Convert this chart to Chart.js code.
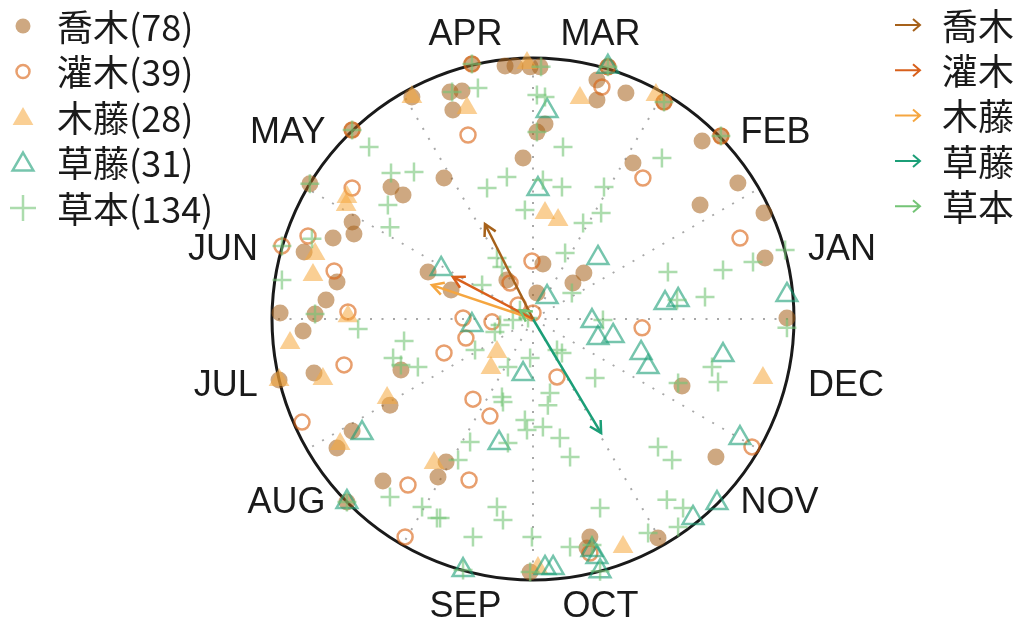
<!DOCTYPE html>
<html>
<head>
<meta charset="utf-8">
<script src="https://cdn.jsdelivr.net/npm/chart.js@4.4.1/dist/chart.umd.min.js"></script>
<style>
  html, body { margin: 0; padding: 0; background: #fff; }
  #wrap { width: 1020px; height: 623px; }
</style>
</head>
<body>
<div id="wrap"><canvas id="myChart" width="1020" height="623"></canvas></div>
<script>
// month labels around the circle, JAN starts at 0 deg (east), counter-clockwise
const months = ['JAN', 'FEB', 'MAR', 'APR', 'MAY', 'JUN', 'JUL', 'AUG', 'SEP', 'OCT', 'NOV', 'DEC'];

const groupNames = ['喬木', '灌木', '木藤', '草藤', '草本'];
const groupCounts = [78, 39, 28, 31, 134];

// points as [x, y] inside the unit circle (radius 1 = circle edge)
const qiaomu = [
  [-0.234, 0.977], [-0.107, 0.969], [-0.069, 0.969], [-0.011, 0.966], [0.027, 0.966],
  [0.287, 0.966], [0.245, 0.916], [0.245, 0.839], [0.356, 0.866], [-0.318, 0.870],
  [-0.272, 0.874], [-0.307, 0.801], [0.046, 0.747], [0.015, 0.716], [-0.038, 0.617],
  [-0.341, 0.540], [-0.464, 0.851], [-0.693, 0.724], [-0.544, 0.506], [-0.498, 0.475],
  [-0.855, 0.518], [-0.693, 0.372], [-0.686, 0.326], [-0.766, 0.310], [-0.877, 0.257],
  [-0.751, 0.142], [-0.793, 0.073], [-0.969, 0.023], [-0.835, 0.019], [-0.881, -0.046],
  [-0.506, -0.195], [-0.839, -0.207], [-0.973, -0.234], [-0.548, -0.330], [-0.693, -0.429],
  [-0.751, -0.494], [-0.575, -0.621], [-0.333, -0.548], [-0.364, -0.605], [-0.713, -0.701],
  [-0.402, 0.180], [-0.314, 0.111], [0.038, 0.211], [0.195, 0.176], [0.153, 0.138],
  [-0.100, 0.149], [0.015, 0.100], [0.383, 0.598], [0.648, 0.682], [0.785, 0.521],
  [0.640, 0.437], [0.885, 0.406], [0.889, 0.234], [0.973, 0.004], [0.571, -0.257],
  [0.701, -0.529], [0.479, -0.839], [0.218, -0.835], [0.207, -0.877], [-0.011, -0.969],
  [0.720, 0.701], [0.502, 0.831]
];
const guanmu = [
  [-0.234, 0.977], [0.264, 0.889], [-0.249, 0.705], [-0.693, 0.724], [-0.693, 0.502],
  [-0.962, 0.280], [-0.862, 0.318], [-0.762, 0.184], [-0.709, 0.027], [-0.724, -0.176],
  [-0.885, -0.395], [-0.479, -0.636], [-0.490, -0.835], [-0.004, 0.222], [-0.088, 0.138],
  [-0.057, 0.054], [0.000, 0.023], [-0.268, 0.004], [-0.157, -0.011], [-0.257, -0.073],
  [-0.341, -0.130], [0.092, -0.222], [-0.230, -0.307], [-0.165, -0.372], [-0.245, -0.617],
  [0.218, -0.897], [0.793, 0.310], [0.418, -0.034], [0.839, -0.490], [0.421, 0.540],
  [0.720, 0.701], [0.502, 0.831], [0.287, 0.966]
];
const muteng = [
  [-0.023, 0.981], [0.180, 0.847], [0.471, 0.858], [-0.253, 0.808], [-0.464, 0.851],
  [-0.713, 0.467], [-0.716, 0.437], [-0.835, 0.249], [-0.843, 0.169], [-0.709, 0.011],
  [-0.931, -0.092], [-0.805, -0.230], [-0.973, -0.234], [-0.559, -0.303], [-0.739, -0.479],
  [-0.379, -0.552], [-0.138, -0.126], [-0.161, -0.188], [0.046, 0.406], [0.096, 0.379],
  [0.345, -0.874], [0.881, -0.226], [0.019, -0.954]
];
const caoteng = [
  [0.287, 0.966], [0.054, 0.797], [0.019, 0.498], [-0.352, 0.192], [0.249, 0.234],
  [0.054, 0.084], [-0.234, -0.023], [-0.038, -0.211], [0.226, -0.008], [0.249, -0.073],
  [0.307, -0.065], [0.506, 0.061], [0.556, 0.073], [0.973, 0.092], [0.414, -0.130],
  [0.441, -0.184], [0.728, -0.138], [-0.655, -0.437], [-0.713, -0.701], [-0.130, -0.475],
  [-0.268, -0.962], [0.046, -0.954], [0.077, -0.954], [0.226, -0.885], [0.245, -0.912],
  [0.257, -0.966], [0.793, -0.456], [0.613, -0.762], [0.705, -0.705]
];
const caoben = [
  [-0.234, 0.977], [0.031, 0.966], [0.287, 0.966], [0.502, 0.831], [0.720, 0.701],
  [-0.693, 0.724], [-0.310, 0.870], [-0.211, 0.885], [0.015, 0.858], [0.046, 0.851],
  [0.115, 0.659], [0.015, 0.716], [-0.628, 0.659], [-0.544, 0.559], [-0.456, 0.563],
  [-0.855, 0.518], [-0.556, 0.437], [-0.548, 0.352], [-0.100, 0.544], [-0.176, 0.502],
  [0.038, 0.533], [0.111, 0.506], [-0.031, 0.418], [0.192, 0.368], [0.261, 0.406],
  [0.272, 0.506], [0.494, 0.617], [-0.962, 0.280], [-0.847, 0.307], [-0.962, 0.149],
  [-0.835, 0.019], [-0.670, -0.038], [-0.494, -0.084], [-0.536, -0.149], [-0.506, -0.176],
  [-0.441, -0.184], [0.123, 0.253], [-0.138, 0.234], [-0.119, 0.199], [-0.195, 0.130],
  [0.149, 0.100], [-0.050, 0.034], [-0.019, 0.004], [-0.077, -0.004], [-0.146, -0.050],
  [-0.126, -0.023], [0.268, -0.004], [-0.222, -0.119], [0.092, -0.119], [0.111, -0.130],
  [-0.096, -0.184], [0.238, -0.226], [-0.119, -0.299], [0.065, -0.284], [-0.011, -0.149],
  [0.966, 0.264], [0.843, 0.218], [0.728, 0.188], [0.517, 0.180], [0.659, 0.084],
  [0.552, 0.073], [0.973, -0.034], [0.686, -0.184], [0.709, -0.241], [0.556, -0.245],
  [-0.115, -0.318], [0.057, -0.330], [-0.031, -0.387], [-0.023, -0.425], [0.038, -0.414],
  [0.103, -0.456], [0.142, -0.529], [-0.096, -0.475], [-0.241, -0.471], [-0.287, -0.540],
  [-0.138, -0.720], [-0.115, -0.770], [-0.230, -0.835], [-0.356, -0.762], [-0.004, -0.835],
  [0.142, -0.874], [0.257, -0.724], [-0.268, -0.962], [-0.011, -0.969], [0.257, -0.966],
  [0.226, -0.866], [-0.548, -0.682], [-0.713, -0.701], [-0.425, -0.720], [-0.368, -0.762],
  [0.479, -0.490], [0.533, -0.540], [0.513, -0.693], [0.575, -0.724], [0.556, -0.797],
  [0.441, -0.820]
];

// mean direction vectors (tip of each arrow), same order as groupNames
const arrowX = [-0.184, -0.307, -0.387, 0.261, -0.050];
const arrowY = [0.364, 0.161, 0.130, -0.437, 0.034];

const arrowColors = ['#a6611a', '#d8601c', '#f5a640', '#1b9e77', '#74c476'];

const toXY = arr => arr.map(p => ({x: p[0], y: p[1]}));

const pointSets = [
  {label: groupNames[0], data: toXY(qiaomu), pointStyle: 'circle', pointRadius: 8.5,
   backgroundColor: 'rgba(166,97,26,0.55)', borderColor: 'rgba(0,0,0,0)', borderWidth: 0, order: 5},
  {label: groupNames[1], data: toXY(guanmu), pointStyle: 'circle', pointRadius: 7.5,
   backgroundColor: 'rgba(0,0,0,0)', borderColor: 'rgba(217,95,14,0.6)', borderWidth: 2.5, order: 4},
  {label: groupNames[2], data: toXY(muteng), pointStyle: 'triangle', pointRadius: 12,
   backgroundColor: 'rgba(246,168,60,0.55)', borderColor: 'rgba(0,0,0,0)', borderWidth: 0, order: 3},
  {label: groupNames[3], data: toXY(caoteng), pointStyle: 'triangle', pointRadius: 12,
   backgroundColor: 'rgba(0,0,0,0)', borderColor: 'rgba(27,158,119,0.6)', borderWidth: 2.5, order: 2},
  {label: groupNames[4], data: toXY(caoben), pointStyle: 'cross', pointRadius: 9.5,
   backgroundColor: 'rgba(0,0,0,0)', borderColor: 'rgba(116,196,118,0.6)', borderWidth: 2.5, order: 1}
];
pointSets.forEach(d => { d.type = 'scatter'; d.clip = false; d.pointHoverRadius = d.pointRadius; });

const arrowSets = groupNames.map((n, i) => ({
  type: 'line',
  label: n + ' arrow',
  data: [{x: 0, y: 0}, {x: arrowX[i], y: arrowY[i]}],
  borderColor: arrowColors[i],
  borderWidth: 2.5,
  pointRadius: 0,
  showLine: true,
  clip: false,
  order: 0,
  isArrow: true
}));

const polarDecor = {
  id: 'polarDecor',
  beforeDatasetsDraw(chart) {
    const {ctx, scales: {x, y}} = chart;
    const cx = x.getPixelForValue(0), cy = y.getPixelForValue(0);
    const R = x.getPixelForValue(1) - cx;
    ctx.save();
    // dotted spokes
    ctx.strokeStyle = '#a8a8a8';
    ctx.lineWidth = 2;
    ctx.setLineDash([2, 9.5]);
    for (let a = 0; a < 360; a += 30) {
      const t = a * Math.PI / 180;
      ctx.beginPath();
      ctx.moveTo(cx, cy);
      ctx.lineTo(cx + R * Math.cos(t), cy - R * Math.sin(t));
      ctx.stroke();
    }
    ctx.setLineDash([]);
    ctx.strokeStyle = '#1a1a1a';
    ctx.lineWidth = 3;
    ctx.beginPath();
    ctx.arc(cx, cy, R, 0, Math.PI * 2);
    ctx.stroke();

    // month labels
    ctx.fillStyle = '#1a1a1a';
    ctx.font = '36px "Liberation Sans", Arial, sans-serif';
    ctx.textBaseline = 'alphabetic';
    months.forEach((m, i) => {
      const t = (15 + 30 * i) * Math.PI / 180;
      const px = cx + R * Math.cos(t), py = cy - R * Math.sin(t);
      const c = Math.cos(t), s = Math.sin(t);
      if (Math.abs(c) > 0.5) {
        ctx.textAlign = c > 0 ? 'left' : 'right';
        ctx.fillText(m, px + (c > 0 ? 23 : -23), py + 9);
      } else {
        ctx.textAlign = 'center';
        ctx.fillText(m, px, s > 0 ? py - 22 : py + 46);
      }
    });
    ctx.restore();
  },
  afterDatasetsDraw(chart) {
    const ctx = chart.ctx;
    ctx.save();
    chart.data.datasets.forEach((ds, i) => {
      if (!ds.isArrow) return;
      const pts = chart.getDatasetMeta(i).data;
      const a = pts[0], b = pts[1];
      const ang = Math.atan2(b.y - a.y, b.x - a.x);
      const len = 13, spread = 0.5;
      ctx.strokeStyle = ds.borderColor;
      ctx.lineWidth = 2.5;
      ctx.beginPath();
      ctx.moveTo(b.x - len * Math.cos(ang - spread), b.y - len * Math.sin(ang - spread));
      ctx.lineTo(b.x, b.y);
      ctx.lineTo(b.x - len * Math.cos(ang + spread), b.y - len * Math.sin(ang + spread));
      ctx.stroke();
    });
    ctx.restore();
  },
  afterDraw(chart) {
    const ctx = chart.ctx;
    ctx.save();
    ctx.font = '36px "Noto Sans CJK TC", "Noto Sans", sans-serif';
    ctx.fillStyle = '#1a1a1a';
    ctx.textBaseline = 'middle';
    ctx.textAlign = 'left';
    // left legend: point keys
    groupNames.forEach((n, i) => {
      const yy = 26 + 45.5 * i, xx = 23;
      const ds = pointSets[i];
      ctx.beginPath();
      if (i === 0) {
        ctx.fillStyle = ds.backgroundColor;
        ctx.arc(xx, yy, 7.5, 0, Math.PI * 2);
        ctx.fill();
      } else if (i === 1) {
        ctx.strokeStyle = ds.borderColor; ctx.lineWidth = 2.5;
        ctx.arc(xx, yy, 6.5, 0, Math.PI * 2);
        ctx.stroke();
      } else if (i === 2 || i === 3) {
        const r = 12;
        for (let k = 0; k < 3; k++) {
          const t = -Math.PI / 2 + k * 2 * Math.PI / 3;
          const fx = xx + r * Math.cos(t), fy = yy + 2 + r * Math.sin(t);
          if (k === 0) ctx.moveTo(fx, fy); else ctx.lineTo(fx, fy);
        }
        ctx.closePath();
        if (i === 2) { ctx.fillStyle = ds.backgroundColor; ctx.fill(); }
        else { ctx.strokeStyle = ds.borderColor; ctx.lineWidth = 2.5; ctx.stroke(); }
      } else {
        ctx.strokeStyle = ds.borderColor; ctx.lineWidth = 2.5;
        ctx.moveTo(xx - 13, yy); ctx.lineTo(xx + 13, yy);
        ctx.moveTo(xx, yy - 13); ctx.lineTo(xx, yy + 13);
        ctx.stroke();
      }
      ctx.fillStyle = '#1a1a1a';
      ctx.fillText(n + '(' + groupCounts[i] + ')', 57, yy + 1);
    });
    // right legend: arrow keys
    groupNames.forEach((n, i) => {
      const yy = 25 + 45.3 * i;
      ctx.strokeStyle = arrowColors[i];
      ctx.lineWidth = 2;
      ctx.beginPath();
      ctx.moveTo(895, yy); ctx.lineTo(920, yy);
      ctx.moveTo(913, yy - 6); ctx.lineTo(920, yy); ctx.lineTo(913, yy + 6);
      ctx.stroke();
      ctx.fillStyle = '#1a1a1a';
      ctx.fillText(n, 942, yy + 1);
    });
    ctx.restore();
  }
};

const config = {
  type: 'scatter',
  data: {datasets: [...pointSets, ...arrowSets]},
  options: {
    responsive: false,
    animation: false,
    events: [],
    layout: {padding: {left: 272, right: 226, top: 58, bottom: 43}},
    scales: {
      x: {type: 'linear', min: -1, max: 1, display: false},
      y: {type: 'linear', min: -1, max: 1, display: false}
    },
    plugins: {legend: {display: false}, tooltip: {enabled: false}}
  },
  plugins: [polarDecor]
};

const myChart = new Chart(document.getElementById('myChart'), config);
</script>
</body>
</html>
